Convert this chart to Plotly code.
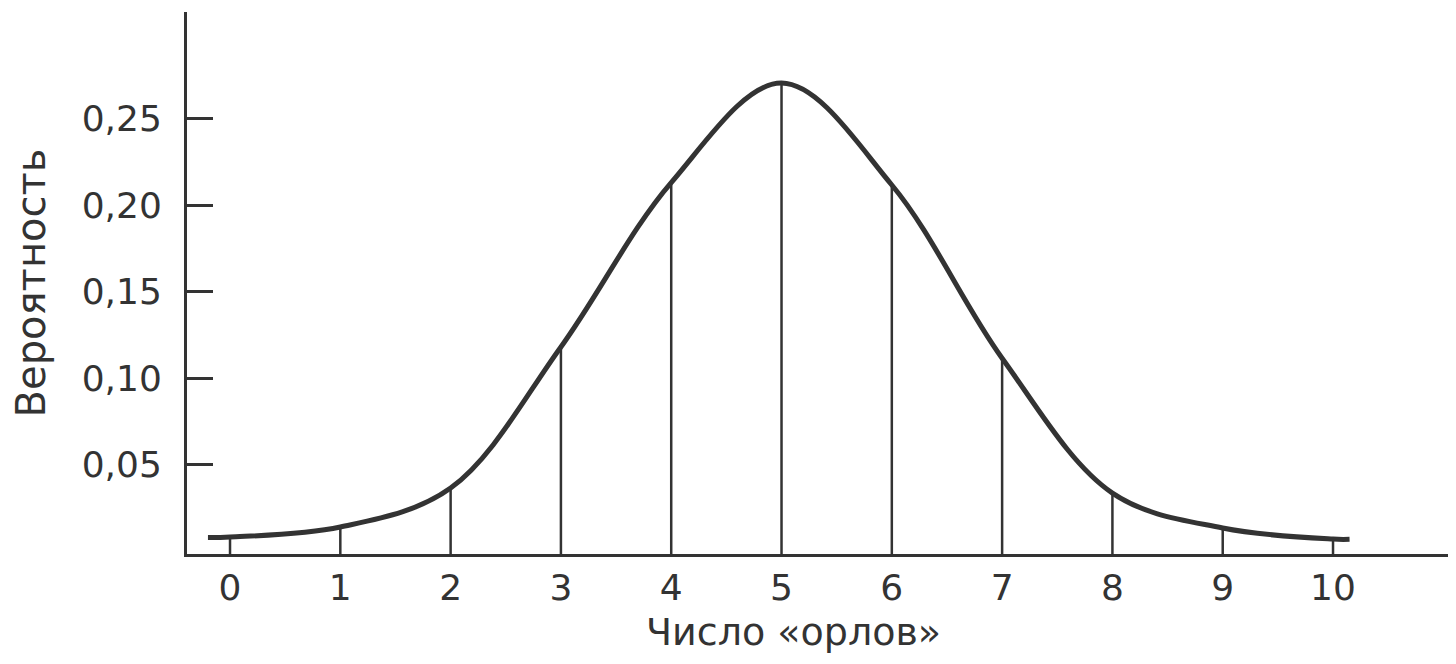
import plotly.graph_objects as go

# number of heads and the probability
heads = [0, 1, 2, 3, 4, 5, 6, 7, 8, 9, 10]
prob = [0.0081, 0.0139, 0.0364, 0.118, 0.213, 0.2705, 0.2116, 0.1115, 0.0335, 0.0133, 0.0069]

# curve runs a little past 0 and 10
curve_x = [-0.2] + heads + [10.15]
curve_y = [0.0078] + prob + [0.0068]

y_ticks = [0.05, 0.10, 0.15, 0.20, 0.25]
y_tick_text = ["0,05", "0,10", "0,15", "0,20", "0,25"]

y_floor = -0.0017
ink = "#333333"

# vertical stems from the axis to the curve
stem_x, stem_y = [], []
for h, p in zip(heads, prob):
    stem_x += [h, h, None]
    stem_y += [y_floor, p, None]

fig = go.Figure()
fig.add_trace(go.Scatter(x=stem_x, y=stem_y, mode="lines",
                         line=dict(color=ink, width=2.5), hoverinfo="skip"))
fig.add_trace(go.Scatter(x=curve_x, y=curve_y, mode="lines",
                         line=dict(color=ink, width=5, shape="spline", smoothing=1.0)))

# page body has an 8px margin, so the figure is a bit smaller than the window
fig.update_layout(
    width=1448, height=656,
    margin=dict(l=179, r=0, t=4, b=110),
    paper_bgcolor="white", plot_bgcolor="white",
    showlegend=False,
    font=dict(family="DejaVu Sans, sans-serif", size=36, color=ink),
)
fig.update_xaxes(
    range=[-0.39, 11.115], tickvals=heads, ticks="", showgrid=False, zeroline=False,
    showline=True, linecolor=ink, linewidth=3, ticklabelstandoff=0,
)
fig.update_yaxes(
    range=[y_floor, 0.3116], tickvals=y_ticks, ticktext=y_tick_text,
    ticks="inside", ticklen=26, tickwidth=2.5, tickcolor=ink,
    showgrid=False, zeroline=False, showline=True, linecolor=ink, linewidth=3,
    ticklabelstandoff=15,
    title=dict(text="Вероятность", font=dict(size=40), standoff=26),
)

# x title sits a little left of the plot centre in the original
fig.add_annotation(text="Число «орлов»", xref="paper", yref="paper",
                   x=0.478, y=0, xanchor="center", yanchor="middle", yshift=-78,
                   showarrow=False, font=dict(size=38, color=ink))

fig.write_html("out.html")
